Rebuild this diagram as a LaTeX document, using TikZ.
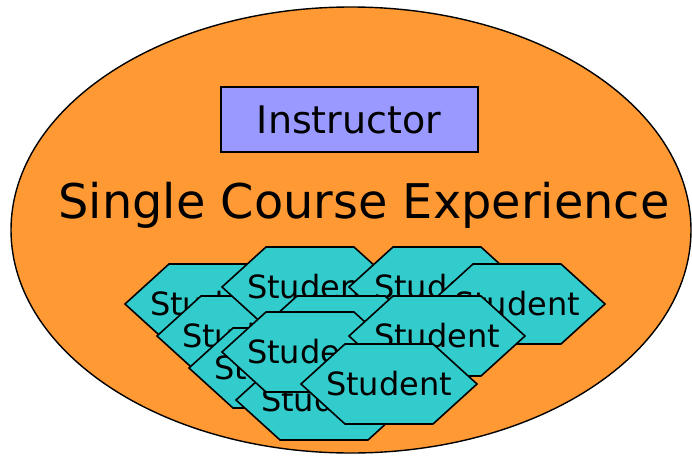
\documentclass[tikz,border=0pt]{standalone}
\usepackage{fontspec}
\newfontfamily\slidefont{DejaVu Sans}
\usepackage{tikz}
\usetikzlibrary{positioning}

\definecolor{courseorange}{HTML}{FF9933}
\definecolor{studentteal}{HTML}{33CCCC}
\definecolor{instrblue}{HTML}{9999FF}

\tikzset{
	hexcell/.style={draw=black,line width=1.6pt,fill=studentteal,line join=miter},
	studlabel/.style={inner sep=0pt,font=\slidefont\fontsize{32}{36}\selectfont}
}

\begin{document}
\begin{tikzpicture}[x=1pt,y=-1pt]
		\useasboundingbox (0,0) rectangle (692,455);
		\draw[line width=1.4pt,fill=courseorange] (351,230) ellipse [x radius=340pt, y radius=223pt];
		\node[draw,line width=2pt,fill=instrblue,minimum width=257pt,minimum height=65pt,inner sep=0pt,
			font=\slidefont\fontsize{38}{44}\selectfont] (inst) at (349,119.5) {Instructor};
		\node[inner sep=0pt,anchor=base,font=\slidefont\fontsize{47.8}{56}\selectfont] (course) at (364,218) {Single Course Experience};
		% students, back to front
		\foreach \n/\x/\y in {1/213/304, 5/245/336, 2/310/287, 3/437/287, 4/517/304, 6/341/336,
			7/277/368, 10/324/400, 8/310/352, 9/437/336, 11/389/384} {
			\draw[hexcell] (\x-88,\y) -- ++(44,-40) -- ++(88,0) -- ++(44,40) -- ++(-44,40) -- ++(-88,0) -- cycle;
			\node[studlabel] (stu_\n) at (\x,\y) {Student};
		}
	\end{tikzpicture}
\end{document}
